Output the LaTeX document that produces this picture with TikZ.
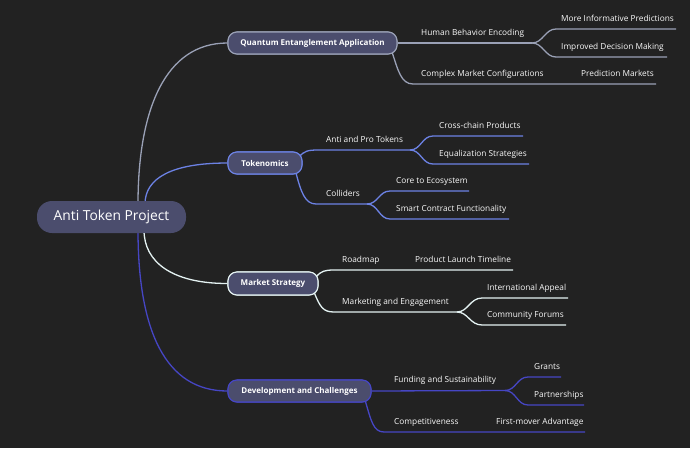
\documentclass[tikz,border=0pt]{standalone}
\usepackage{fontspec}
\setmainfont{Open Sans}
\begin{document}
\begin{tikzpicture}[x=1pt,y=-1pt,
  lbl/.style={anchor=base west,inner sep=0pt,text=txt,font=\fontsize{8.3}{10}\selectfont},
  bnode/.style={rounded corners=9pt,minimum height=22pt,inner sep=0pt,fill=nodefill,line width=1.1pt,text=white,font=\fontsize{8}{10}\selectfont\bfseries},
  edgeQ/.style={draw=colQ,line width=1.3pt},
  edgeT/.style={draw=colT,line width=1.3pt},
  edgeM/.style={draw=colM,line width=1.3pt},
  edgeD/.style={draw=colD,line width=1.3pt}]
\definecolor{bg}{HTML}{222222}
\definecolor{nodefill}{HTML}{4B4D6D}
\definecolor{txt}{HTML}{FAFAFA}
\definecolor{colQ}{HTML}{9AA1B6}
\definecolor{colT}{HTML}{6C82E4}
\definecolor{colM}{HTML}{E4F2F2}
\definecolor{colD}{HTML}{4646C4}
\fill[bg] (0,0) rectangle (690,448);
\useasboundingbox (0,0) rectangle (690,448);

% coordinates on root
\coordinate (r1) at (138,204);
\coordinate (r2) at (145,204);
\coordinate (r3) at (144,230);
\coordinate (r4) at (138,230);

% main nodes positions (drawn again on top later)
\path (312.5,43) node[bnode,draw=colQ,minimum width=169pt] (qea) {Quantum Entanglement Application};
\path (265,163) node[bnode,draw=colT,minimum width=74pt] (tok) {Tokenomics};
\path (273,283.5) node[bnode,draw=colM,minimum width=90pt,minimum height=23pt] (mks) {Market Strategy};
\path (299.5,391) node[bnode,draw=colD,minimum width=143pt] (dev) {Development and Challenges};

% root connectors
\draw[edgeQ] (r1) .. controls (138,110) and (165,43) .. (qea.west);
\draw[edgeT] (r2) .. controls (145,178) and (172,163) .. (tok.west);
\draw[edgeM] (r3) .. controls (144,262) and (172,283.5) .. (mks.west);
\draw[edgeD] (r4) .. controls (138,330) and (165,391) .. (dev.west);

% QEA branch
\coordinate (q1) at (532,43);
\coordinate (q1a) at (676,29);
\coordinate (q1b) at (667,57);
\coordinate (q2s) at (392,52);
\coordinate (q2) at (656,84);
\draw[edgeQ] (qea.east) -- (q1);
\draw[edgeQ] (q1) .. controls (543,43) and (545,29) .. (556,29) -- (q1a);
\draw[edgeQ] (q1) .. controls (543,43) and (545,57) .. (556,57) -- (q1b);
\draw[edgeQ] (q2s) .. controls (398,70) and (401,84) .. (413,84) -- (q2);

% Tokenomics branch
\coordinate (t1s) at (299,157);
\coordinate (t1) at (410,150);
\coordinate (t1a) at (523,136);
\coordinate (t1b) at (529,164);
\coordinate (t2s) at (296,173);
\coordinate (t2) at (367,204);
\coordinate (t2a) at (469,191);
\coordinate (t2b) at (509,219);
\draw[edgeT] (t1s) .. controls (304,151) and (308,150) .. (318,150) -- (t1);
\draw[edgeT] (t1) .. controls (421,150) and (422,136) .. (433,136) -- (t1a);
\draw[edgeT] (t1) .. controls (421,150) and (422,164) .. (433,164) -- (t1b);
\draw[edgeT] (t2s) .. controls (301,192) and (305,204) .. (316,204) -- (t2);
\draw[edgeT] (t2) .. controls (378,204) and (379,191) .. (390,191) -- (t2a);
\draw[edgeT] (t2) .. controls (378,204) and (379,219) .. (390,219) -- (t2b);

% Market Strategy branch
\coordinate (m1s) at (316,277);
\coordinate (m1) at (513,270);
\coordinate (m2s) at (314,292);
\coordinate (m2) at (457,312);
\coordinate (m2a) at (568,298);
\coordinate (m2b) at (566,325);
\draw[edgeM] (m1s) .. controls (321,271) and (325,270) .. (334,270) -- (m1);
\draw[edgeM] (m2s) .. controls (320,307) and (323,312) .. (334,312) -- (m2);
\draw[edgeM] (m2) .. controls (468,312) and (470,298) .. (482,298) -- (m2a);
\draw[edgeM] (m2) .. controls (468,312) and (470,325) .. (482,325) -- (m2b);

% Development branch
\coordinate (d1) at (505,390.5);
\coordinate (d1a) at (561,377);
\coordinate (d1b) at (584,405);
\coordinate (d2s) at (365,400);
\coordinate (d2) at (585,432);
\draw[edgeD] (dev.east) -- (d1);
\draw[edgeD] (d1) .. controls (516,390.5) and (517,377) .. (528,377) -- (d1a);
\draw[edgeD] (d1) .. controls (516,390.5) and (517,405) .. (528,405) -- (d1b);
\draw[edgeD] (d2s) .. controls (371,420) and (373,432) .. (384,432) -- (d2);

% redraw main nodes on top
\path (312.5,43) node[bnode,draw=colQ,minimum width=169pt] {Quantum Entanglement Application};
\path (265,163) node[bnode,draw=colT,minimum width=74pt] {Tokenomics};
\path (273,283.5) node[bnode,draw=colM,minimum width=90pt,minimum height=23pt] {Market Strategy};
\path (299.5,391) node[bnode,draw=colD,minimum width=143pt] {Development and Challenges};

% root
\node[rounded corners=15pt,minimum width=149pt,minimum height=32pt,inner sep=0pt,fill=nodefill,text=white,font=\fontsize{13.8}{16}\selectfont] (root) at (111.5,217) {Anti Token Project};

% labels
\node[lbl] (hbe) at (421,35) {Human Behavior Encoding};
\node[lbl] (mip) at (561,21) {More Informative Predictions};
\node[lbl] (idm) at (561,49) {Improved Decision Making};
\node[lbl] (cmc) at (421,76) {Complex Market Configurations};
\node[lbl] (pm) at (581,76) {Prediction Markets};
\node[lbl] (apt) at (326,142) {Anti and Pro Tokens};
\node[lbl] (ccp) at (439,128) {Cross-chain Products};
\node[lbl] (eqs) at (439,156) {Equalization Strategies};
\node[lbl] (col) at (326,196) {Colliders};
\node[lbl] (cte) at (396,183) {Core to Ecosystem};
\node[lbl] (scf) at (396,211) {Smart Contract Functionality};
\node[lbl] (rdm) at (342,262) {Roadmap};
\node[lbl] (plt) at (415,262) {Product Launch Timeline};
\node[lbl] (mae) at (342,304) {Marketing and Engagement};
\node[lbl] (ina) at (487,290) {International Appeal};
\node[lbl] (cof) at (487,317) {Community Forums};
\node[lbl] (fas) at (394,382) {Funding and Sustainability};
\node[lbl] (gra) at (534,369) {Grants};
\node[lbl] (par) at (534,397) {Partnerships};
\node[lbl] (cmp) at (394,424) {Competitiveness};
\node[lbl] (fma) at (496,424) {First-mover Advantage};
\end{tikzpicture}
\end{document}
